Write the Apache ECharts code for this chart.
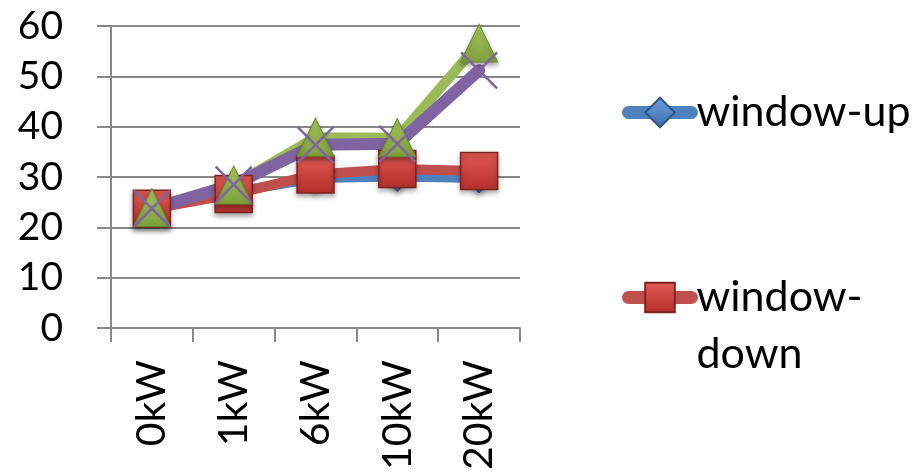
<!DOCTYPE html>
<html>
<head>
<meta charset="utf-8">
<script src="https://cdn.jsdelivr.net/npm/echarts@6/dist/echarts.min.js"></script>
<style>
  html, body { margin: 0; padding: 0; background: #fff; }
  #chart { width: 915px; height: 473px; }
</style>
</head>
<body>
<div id="chart"></div>
<script>
// Load levels on the x axis
const categories = ['0kW', '1kW', '6kW', '10kW', '20kW'];
// Measured values per series
const windowUp = [24, 27, 29.8, 30.1, 29.8];
const windowDown = [23.7, 26.6, 30.5, 31.6, 31.2];
const series3 = [23.9, 28.4, 37.9, 37.8, 56.6];
const series4 = [23.7, 28.5, 36.4, 36.6, 51.2];
const yTicks = { min: 0, max: 60, interval: 10 };

const FONT = 'Lato';
const GRID = '#888888';

function grad(top, bottom) {
  return new echarts.graphic.LinearGradient(0, 0, 0, 1, [
    { offset: 0, color: top },
    { offset: 1, color: bottom }
  ]);
}

const shadow = { shadowColor: 'rgba(0,0,0,0.35)', shadowBlur: 5, shadowOffsetY: 3 };
const legendLine = { width: 13, cap: 'round' };

const chart = echarts.init(document.getElementById('chart'), null, { renderer: 'canvas' });
chart.setOption({
  animation: false,
  backgroundColor: '#ffffff',
  grid: { left: 111, right: 395, top: 26, bottom: 143, containLabel: false },
  legend: [
    {
      data: ['window-up'],
      orient: 'vertical',
      left: 617,
      top: 86,
      itemWidth: 63,
      itemHeight: 37,
      itemGap: 0,
      textStyle: { fontFamily: FONT, fontSize: 43, color: '#000' },
      lineStyle: legendLine
    },
    {
      data: ['window-down'],
      orient: 'vertical',
      left: 617,
      top: 207,
      itemWidth: 63,
      itemHeight: 37,
      itemGap: 0,
      // blank first line keeps the icon level with "window-" while "down" wraps below
      formatter: function (name) { return ' \n' + name.replace('-', '-\n'); },
      textStyle: { fontFamily: FONT, fontSize: 43, color: '#000', lineHeight: 57 },
      lineStyle: legendLine
    }
  ],
  xAxis: {
    type: 'category',
    data: categories,
    boundaryGap: true,
    axisLine: { lineStyle: { color: GRID, width: 2 } },
    axisTick: { show: true, length: 14, alignWithLabel: false, lineStyle: { color: GRID, width: 2 } },
    axisLabel: { rotate: 90, margin: 32, fontFamily: FONT, fontSize: 41, color: '#000' },
    splitLine: { show: false }
  },
  yAxis: {
    type: 'value',
    min: yTicks.min,
    max: yTicks.max,
    interval: yTicks.interval,
    axisLine: { show: true, lineStyle: { color: GRID, width: 2 } },
    axisTick: { show: true, length: 14, lineStyle: { color: GRID, width: 2 } },
    axisLabel: { margin: 48, fontFamily: FONT, fontSize: 39, color: '#000' },
    splitLine: { show: true, lineStyle: { color: GRID, width: 2 } }
  },
  series: [
    {
      name: 'window-up',
      type: 'line',
      data: windowUp,
      symbol: 'diamond',
      symbolSize: 30,
      lineStyle: { color: '#4F81BD', width: 10, cap: 'round', join: 'round' },
      itemStyle: Object.assign({ color: grad('#6FA0DC', '#3C6CA8'), borderColor: '#2F5688', borderWidth: 1 }, shadow)
    },
    {
      name: 'window-down',
      type: 'line',
      data: windowDown,
      symbol: 'rect',
      symbolSize: 37,
      lineStyle: { color: '#C0504D', width: 10, cap: 'round', join: 'round' },
      itemStyle: Object.assign({ color: grad('#E25A55', '#B52F2B'), borderColor: '#7E2421', borderWidth: 1.5 }, shadow)
    },
    {
      name: 'Series3',
      type: 'line',
      data: series3,
      symbol: 'triangle',
      symbolSize: [37, 38],
      lineStyle: { color: '#9BBB59', width: 10, cap: 'round', join: 'round' },
      itemStyle: Object.assign({ color: grad('#A9CB62', '#7E9E3A'), borderColor: '#6A8733', borderWidth: 1 }, shadow)
    },
    {
      name: 'Series4',
      type: 'line',
      data: series4,
      symbol: 'path://M0,0L10,10M10,0L0,10',
      symbolSize: 36,
      lineStyle: { color: '#8064A2', width: 12, cap: 'round', join: 'round' },
      itemStyle: { color: 'rgba(0,0,0,0)', borderColor: '#8064A2', borderWidth: 2.5 }
    }
  ]
});
</script>
</body>
</html>
